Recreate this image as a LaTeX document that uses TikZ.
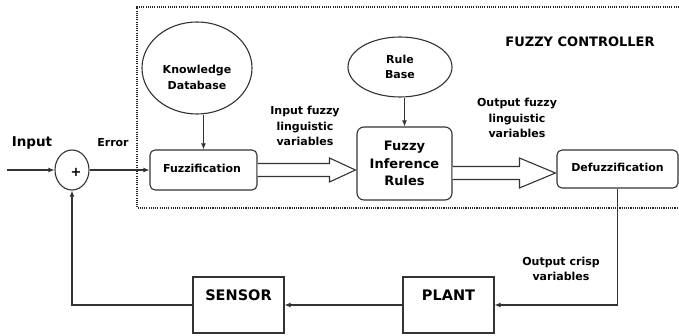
\documentclass[tikz,border=0pt]{standalone}
\usepackage{fontspec}
\setmainfont{DejaVu Sans}
\usetikzlibrary{shapes.geometric,arrows.meta,calc}
\begin{document}
\begin{tikzpicture}[x=1pt,y=-1pt,
  ln/.style={draw=black!80, line width=1.1pt},
  rbox/.style={ln, rounded corners=5pt, fill=white, inner sep=0pt},
  sbox/.style={ln, inner sep=0pt},
  oval/.style={ln, ellipse, inner sep=0pt, align=center},
  txt/.style={inner sep=0pt, align=center},
  arr/.style={ln, -{Latex[length=6pt,width=5pt]}},
  hollow/.style={ln, line join=miter, fill=white},
  frame/.style={draw=black!85, line width=1.3pt, dash pattern=on 1.1pt off 1.1pt},
  f11/.style={font=\bfseries\fontsize{11}{15.5}\selectfont},
  f12/.style={font=\bfseries\fontsize{13}{17.5}\selectfont},
  f14/.style={font=\bfseries\fontsize{14.5}{17}\selectfont}]
\useasboundingbox (0,0) rectangle (679,336);
\fill[white] (0,0) rectangle (679,336);

% dotted controller frame
\draw[frame] (690,7) -- (137,7) -- (137,208) -- (690,208);
\node[txt, f12] (fc) at (580,42) {FUZZY CONTROLLER};

% summing junction
\node[oval, minimum width=34pt, minimum height=40pt] (sum) at (72,170) {};
\node[txt, f12] (plus) at (76,172) {+};
\node[txt, font=\bfseries\fontsize{13.5}{16}\selectfont] (input) at (32,143) {Input};
\node[txt, f11] (error) at (113,143) {Error};
\coordinate (start) at (7,170);

% controller blocks
\node[rbox, minimum width=107pt, minimum height=40pt] (fuzz) at (203.5,170) {};
\node[txt, f11] (fuzzt) at (202,168) {Fuzzification};
\node[oval, minimum width=110pt, minimum height=92pt] (kd) at (197,68) {};
\node[txt, f11] (kdt) at (197,77.5) {Knowledge\\Database};
\node[rbox, rounded corners=7pt, minimum width=95pt, minimum height=73pt, f12, align=center] (fir) at (404.5,163.5) {Fuzzy\\Inference\\Rules};
\node[oval, minimum width=104pt, minimum height=60pt, f11] (rb) at (400,67) {Rule\\Base};
\node[rbox, minimum width=121pt, minimum height=38pt] (defuzz) at (617.5,169) {};
\node[txt, f11] (defuzzt) at (617.5,167) {Defuzzification};

\node[txt, f11] (ifl) at (305,126) {Input fuzzy\\linguistic\\variables};
\node[txt, f11] (ofl) at (517,118) {Output fuzzy\\linguistic\\variables};
\node[txt, f11] (ocv) at (561,269) {Output crisp\\variables};

% plant and sensor
\node[sbox, minimum width=91pt, minimum height=56pt] (sensor) at (238.5,305) {};
\node[txt, f14] (sensort) at (238.5,295) {SENSOR};
\node[sbox, minimum width=91pt, minimum height=56pt] (plant) at (448.5,305) {};
\node[txt, f14] (plantt) at (448.5,295) {PLANT};

% connectors
\draw[arr] (start) -- (sum.west);
\draw[arr] (sum.east) -- (fuzz.west);
\draw[arr] (fuzz.north |- kd.south) -- (fuzz.north);
\draw[arr] (fir.north |- rb.south) -- (fir.north);

% hollow arrow fuzzification -> inference
\coordinate (t1) at (fuzz.east -| fir.west);
\draw[hollow] ($(fuzz.east)+(0,-6.5)$) -- ($(t1)+(-27,-6.5)$) -- ($(t1)+(-27,-12)$)
  -- ($(t1)+(-1,0)$) -- ($(t1)+(-27,12)$) -- ($(t1)+(-27,6.5)$) -- ($(fuzz.east)+(0,6.5)$);
% hollow arrow inference -> defuzzification
\coordinate (t2) at ($(defuzz.west)+(0,4)$);
\draw[hollow] ($(fir.east |- t2)+(0,-6.5)$) -- ($(t2)+(-37,-6.5)$) -- ($(t2)+(-37,-15)$)
  -- ($(t2)+(-1,0)$) -- ($(t2)+(-37,15)$) -- ($(t2)+(-37,6.5)$) -- ($(fir.east |- t2)+(0,6.5)$);

\draw[arr] (defuzz.south) |- (plant.east);
\draw[arr] (plant.west) -- (sensor.east);
\draw[arr] (sensor.west) -| (sum.south);
\end{tikzpicture}
\end{document}
